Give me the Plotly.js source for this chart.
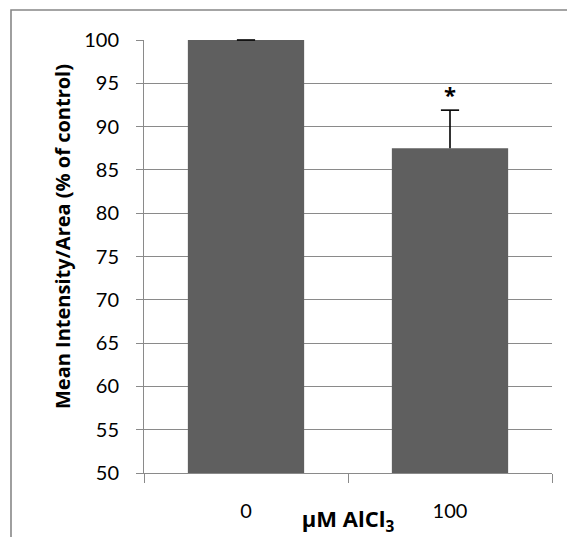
<!DOCTYPE html>
<html>
<head>
<meta charset="utf-8">
<script src="https://cdn.plot.ly/plotly-3.0.1.min.js"></script>
<style>
  html, body { margin: 0; padding: 0; background: #ffffff; }
  #chart { width: 567px; height: 537px; }
</style>
</head>
<body>
<div id="chart"></div>
<script>
// AlCl3 treatment vs. control: mean intensity per area
const doses = ['0', '100'];
const meanIntensity = [100, 87.5];
const errorSEM = [0, 4.4];
const significance = ['', '*'];
const yTicks = [50, 55, 60, 65, 70, 75, 80, 85, 90, 95, 100];
const yTitle = 'Mean Intensity/Area (% of control)';

const TICK_FONT = 'Lato, "Open Sans", sans-serif';
const TITLE_FONT = '"Open Sans", Lato, sans-serif';
const GRID = '#8a8a8a';

const barTrace = {
  type: 'bar',
  x: doses,
  y: meanIntensity,
  marker: { color: '#5f5f5f', line: { width: 0 } },
  width: 0.57,
  hoverinfo: 'skip'
};

// upward whisker only: a stem from the bar top plus a cap marker at the end
const errTops = meanIntensity.map((m, i) => m + errorSEM[i]);
const whiskerTrace = {
  type: 'scatter',
  mode: 'markers',
  x: doses,
  y: errTops,
  marker: { symbol: 'line-ew', size: 13, line: { color: '#000000', width: 1.6 }, color: '#000000' },
  error_y: {
    type: 'data',
    symmetric: false,
    array: doses.map(() => 0),
    arrayminus: errorSEM,
    color: '#000000',
    thickness: 1.6,
    width: 0
  },
  hoverinfo: 'skip',
  cliponaxis: false
};

const annotations = doses
  .map((d, i) => ({ d, i }))
  .filter(o => significance[o.i])
  .map(o => ({
    x: o.i,
    y: errTops[o.i],
    xref: 'x', yref: 'y',
    yanchor: 'bottom',
    yshift: -1,
    text: '<b>' + significance[o.i] + '</b>',
    showarrow: false,
    font: { family: TITLE_FONT, size: 22, color: '#000000' }
  }));

// vertical axis title, placed a little above the plot's mid-height
annotations.push({
  xref: 'paper', yref: 'paper',
  x: (62 - 144) / 408, y: (473 - 237) / 433,
  xanchor: 'center', yanchor: 'middle',
  textangle: -90,
  text: '<b>' + yTitle + '</b>',
  showarrow: false,
  font: { family: TITLE_FONT, size: 20, color: '#000000' }
});

const layout = {
  width: 567,
  height: 537,
  margin: { l: 144, r: 15, t: 40, b: 64, pad: 0 },
  paper_bgcolor: '#ffffff',
  plot_bgcolor: '#ffffff',
  showlegend: false,
  bargap: 0.43,
  font: { family: TICK_FONT, size: 20, color: '#000000' },
  xaxis: {
    type: 'category',
    range: [-0.5, 1.5],
    tickson: 'boundaries',
    ticks: 'outside',
    ticklen: 9,
    tickcolor: GRID,
    tickwidth: 1,
    showgrid: false,
    showline: true,
    linecolor: GRID,
    linewidth: 1,
    ticklabelstandoff: 20,
    tickfont: { family: TICK_FONT, size: 20, color: '#000000' },
    title: {
      text: '<b>µM AlCl<sub>3</sub></b>',
      font: { family: TITLE_FONT, size: 22, color: '#000000' },
      standoff: 0
    },
    fixedrange: true
  },
  yaxis: {
    range: [50, 100],
    tickvals: yTicks,
    ticktext: yTicks.map(String),
    ticks: 'outside',
    ticklen: 7,
    tickcolor: GRID,
    tickwidth: 1,
    showgrid: true,
    gridcolor: GRID,
    gridwidth: 1,
    zeroline: false,
    showline: true,
    linecolor: GRID,
    linewidth: 1,
    ticklabelstandoff: 13,
    tickfont: { family: TICK_FONT, size: 20, color: '#000000' },
    fixedrange: true
  },
  annotations: annotations,
  shapes: [{
    type: 'rect',
    xref: 'paper', yref: 'paper',
    x0: (11 - 144) / 408, x1: 3,
    y0: -2, y1: (473 - 10) / 433,
    line: { color: '#878787', width: 1.6 },
    fillcolor: 'rgba(0,0,0,0)',
    layer: 'below'
  }]
};

Plotly.newPlot('chart', [barTrace, whiskerTrace], layout, { displayModeBar: false, staticPlot: true });
</script>
</body>
</html>
